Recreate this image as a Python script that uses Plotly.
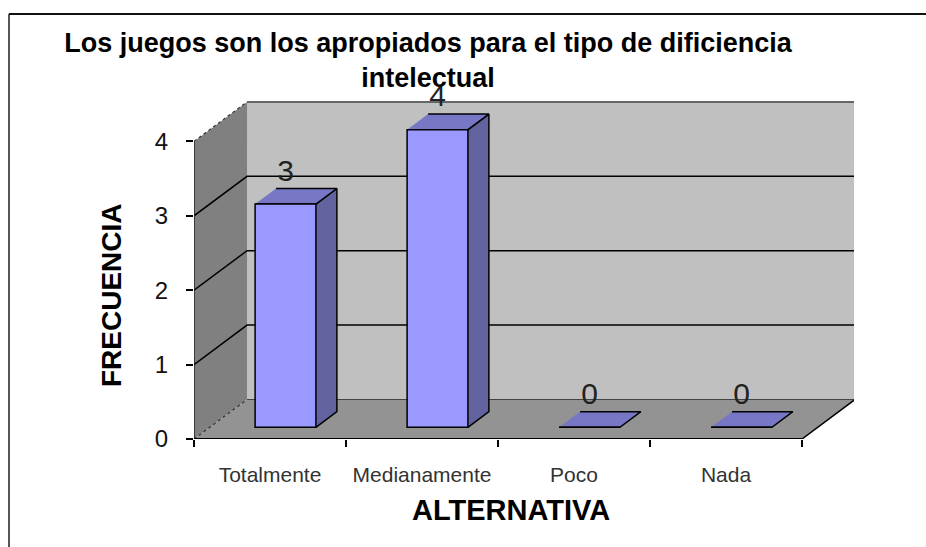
import plotly.graph_objects as go

# ---- data ----
categories = ["Totalmente", "Medianamente", "Poco", "Nada"]
values = [3, 4, 0, 0]
y_ticks = [0, 1, 2, 3, 4]
x_boundaries = [-0.5, 0.5, 1.5, 2.5, 3.5]
title_text = "Los juegos son los apropiados para el tipo de dificiencia<br>intelectual"
x_title = "ALTERNATIVA"
y_title = "FRECUENCIA"

# ---- 3-D look, in axis units ----
X_MAX, Y_MAX = 3.842, 5.094
DEPTH_X, DEPTH_Y = 0.349, 0.531
BAR_W = 0.40
BAR_SHIFT = 0.102
BASE = 0.157
SIDE_X, SIDE_Y = 0.138, 0.21
LABEL_GAP = 0.417

WALL = "#C0C0C0"; LEFT = "#808080"; FLOOR = "#939393"
FRONT = "#9999FF"; SIDE = "#62629F"; TOP = "#7777C6"
FONT = "Liberation Sans"

fig = go.Figure()


def poly(xs, ys, fill, line="rgba(0,0,0,0)", width=1.5):
    fig.add_trace(go.Scatter(x=xs, y=ys, mode="lines", fill="toself", fillcolor=fill,
                             line=dict(color=line, width=width), hoverinfo="skip", showlegend=False))


def seg(xs, ys, color="#000000", width=1.5, dash="solid"):
    fig.add_trace(go.Scatter(x=xs, y=ys, mode="lines", line=dict(color=color, width=width, dash=dash),
                             hoverinfo="skip", showlegend=False))


x0, x1 = x_boundaries[0], x_boundaries[-1]
top = y_ticks[-1]
# walls and floor
poly([x0 + DEPTH_X, x1 + DEPTH_X, x1 + DEPTH_X, x0 + DEPTH_X], [DEPTH_Y, DEPTH_Y, top + DEPTH_Y, top + DEPTH_Y], WALL)
poly([x0, x0 + DEPTH_X, x0 + DEPTH_X, x0], [0, DEPTH_Y, top + DEPTH_Y, top], LEFT)
poly([x0, x1, x1 + DEPTH_X, x0 + DEPTH_X], [0, 0, DEPTH_Y, DEPTH_Y], FLOOR)
# gridlines
for t in y_ticks[1:-1]:
    seg([x0, x0 + DEPTH_X, x1 + DEPTH_X], [t, t + DEPTH_Y, t + DEPTH_Y])
seg([x0 + DEPTH_X, x1 + DEPTH_X], [top + DEPTH_Y, top + DEPTH_Y], "#666666", 2)
seg([x0, x0 + DEPTH_X], [top, top + DEPTH_Y], "#333333", 1.2, "dot")
seg([x0, x0 + DEPTH_X], [0, DEPTH_Y], "#333333", 1.2, "dot")
seg([x0 + DEPTH_X, x1 + DEPTH_X], [DEPTH_Y, DEPTH_Y], "#444444", 1.2)
seg([x1 + DEPTH_X, x1 + DEPTH_X], [DEPTH_Y, top + DEPTH_Y], "#888888", 1.5)
seg([x1, x1 + DEPTH_X], [0, DEPTH_Y])
# axis lines
seg([x0, x0], [y_ticks[0], top], "#222222", 1.5)
seg([x0, x1], [0, 0], "#000000", 2)

# side and top faces of the bars
for i, v in enumerate(values):
    left = i + BAR_SHIFT - BAR_W / 2
    right = i + BAR_SHIFT + BAR_W / 2
    ytop = BASE + v
    if v > 0:
        poly([right, right + SIDE_X, right + SIDE_X, right],
             [BASE, BASE + SIDE_Y, ytop + SIDE_Y, ytop], SIDE, "#000000")
    poly([left, right, right + SIDE_X, left + SIDE_X],
         [ytop, ytop, ytop + SIDE_Y, ytop + SIDE_Y], TOP, "#000000")

# data labels
fig.add_trace(go.Scatter(
    x=[i + BAR_SHIFT for i in range(len(values))],
    y=[BASE + v + LABEL_GAP for v in values],
    mode="text", text=[str(v) for v in values], textposition="middle center",
    textfont=dict(family=FONT, size=30, color="#222222"),
    cliponaxis=False, hoverinfo="skip", showlegend=False))

# front faces, on the category axis
fig.add_trace(go.Bar(
    x=categories, y=values, base=BASE, xaxis="x2", yaxis="y",
    width=BAR_W, offset=BAR_SHIFT - BAR_W / 2,
    marker=dict(color=FRONT, line=dict(color="#000000", width=1.5)),
    hoverinfo="skip", showlegend=False))

dom_x = [194 / 926, 854 / 926]
dom_y = [(547 - 439) / 547, (547 - 60) / 547]

fig.update_layout(
    width=926, height=547, margin=dict(l=0, r=0, t=0, b=0, autoexpand=False),
    paper_bgcolor="white", plot_bgcolor="rgba(0,0,0,0)",
    font=dict(family=FONT, color="black"),
    showlegend=False,
    title=dict(text=title_text, x=428 / 926, xanchor="center", y=1 - 52 / 547, yanchor="top",
               font=dict(family=FONT, size=27, color="black", weight="bold")),
    xaxis=dict(domain=dom_x, range=[-0.5, X_MAX], tickvals=x_boundaries, ticktext=[""] * 5,
               ticks="outside", ticklen=7, tickcolor="black", tickwidth=1.5,
               showgrid=False, zeroline=False, showline=False),
    xaxis2=dict(domain=dom_x, range=[-0.5, X_MAX], overlaying="x", anchor="y", type="category",
                categoryorder="array", categoryarray=categories, side="bottom",
                ticks="", ticklen=0, ticklabelstandoff=21, showgrid=False, zeroline=False, showline=False,
                tickfont=dict(family=FONT, size=21, color="#333333")),
    yaxis=dict(domain=dom_y, range=[0, Y_MAX], tickvals=y_ticks,
               ticks="outside", ticklen=7, tickcolor="black", tickwidth=1.5, ticklabelstandoff=13,
               showgrid=False, zeroline=False, showline=False,
               tickfont=dict(family=FONT, size=24, color="#111111")),
    annotations=[
        dict(text=x_title, xref="paper", yref="paper", x=511 / 926, y=1 - 510 / 547, showarrow=False,
             xanchor="center", yanchor="middle", font=dict(family=FONT, size=29, weight="bold", color="black")),
        dict(text=y_title, xref="paper", yref="paper", x=111 / 926, y=1 - 295 / 547, showarrow=False,
             textangle=-90, xanchor="center", yanchor="middle",
             font=dict(family=FONT, size=28, weight="bold", color="black")),
    ],
    shapes=[
        dict(type="line", xref="paper", yref="paper", x0=9 / 926, x1=9 / 926, y0=0, y1=1 - 14 / 547,
             line=dict(color="#555555", width=2), layer="below"),
        dict(type="line", xref="paper", yref="paper", x0=9 / 926, x1=1, y0=1 - 14 / 547, y1=1 - 14 / 547,
             line=dict(color="#111111", width=2), layer="below"),
    ],
)

fig.write_html("out.html", post_script="document.body.style.margin='0';document.body.style.overflow='hidden';",
               config=dict(displayModeBar=False))
